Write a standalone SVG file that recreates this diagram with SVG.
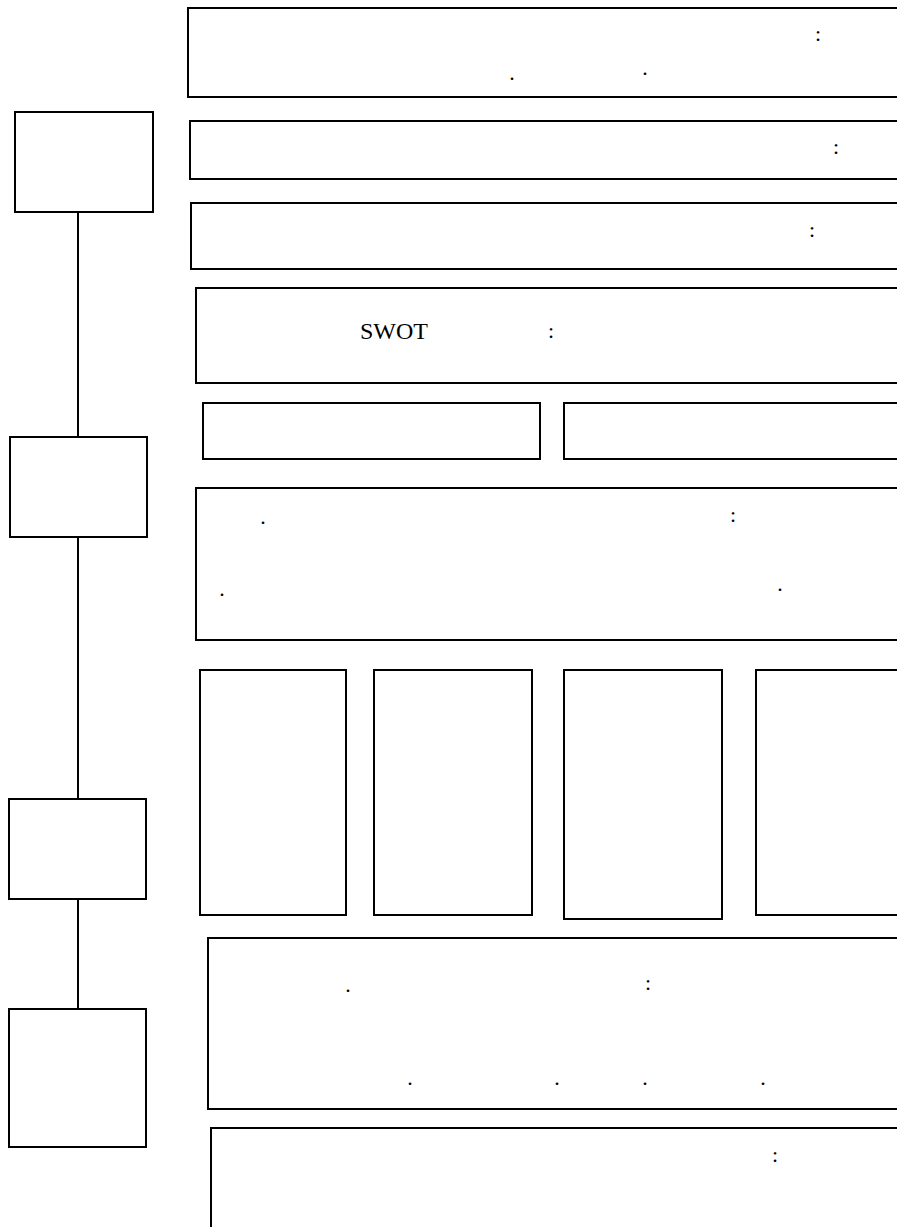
<svg xmlns="http://www.w3.org/2000/svg" width="897" height="1227" viewBox="0 0 897 1227">
<style>
.b{fill:#fff;stroke:#000;stroke-width:2}
.c{stroke:#000;stroke-width:2;fill:none}
text{font-family:"Liberation Serif","Times New Roman",serif;font-size:22px;fill:#000;text-anchor:middle}
.s{font-size:24px}
</style>
<rect x="0" y="0" width="897" height="1227" fill="#fff"/>
<g id="connectors">
<line class="c" x1="78" y1="212" x2="78" y2="437"/>
<line class="c" x1="78" y1="537" x2="78" y2="799"/>
<line class="c" x1="78" y1="899" x2="78" y2="1009"/>
</g>
<g id="stage1"><rect class="b" x="15" y="112" width="138" height="100"/></g>
<g id="stage2"><rect class="b" x="10" y="437" width="137" height="100"/></g>
<g id="stage3"><rect class="b" x="9" y="799" width="137" height="100"/></g>
<g id="stage4"><rect class="b" x="9" y="1009" width="137" height="138"/></g>
<g id="r1"><rect class="b" x="188" y="8" width="720" height="89"/>
<text x="818" y="41">:</text><text x="512" y="80">.</text><text x="645" y="75">.</text></g>
<g id="r2"><rect class="b" x="190" y="121" width="720" height="58"/>
<text x="836" y="154">:</text></g>
<g id="r3"><rect class="b" x="191" y="203" width="720" height="66"/>
<text x="812" y="237">:</text></g>
<g id="r4"><rect class="b" x="196" y="288" width="715" height="95"/>
<text class="s" x="394" y="339">SWOT</text><text x="551" y="338">:</text></g>
<g id="r5a"><rect class="b" x="203" y="403" width="337" height="56"/></g>
<g id="r5b"><rect class="b" x="564" y="403" width="346" height="56"/></g>
<g id="r6"><rect class="b" x="196" y="488" width="715" height="152"/>
<text x="263" y="524">.</text><text x="733" y="522">:</text><text x="222" y="596">.</text><text x="780" y="591">.</text></g>
<g id="col1"><rect class="b" x="200" y="670" width="146" height="245"/></g>
<g id="col2"><rect class="b" x="374" y="670" width="158" height="245"/></g>
<g id="col3"><rect class="b" x="564" y="670" width="158" height="249"/></g>
<g id="col4"><rect class="b" x="756" y="670" width="154" height="245"/></g>
<g id="r7"><rect class="b" x="208" y="938" width="702" height="171"/>
<text x="348" y="992">.</text><text x="648" y="990">:</text>
<text x="410" y="1085">.</text><text x="557" y="1085">.</text><text x="645" y="1085">.</text><text x="763" y="1085">.</text></g>
<g id="r8"><rect class="b" x="211" y="1128" width="700" height="120"/>
<text x="775" y="1162">:</text></g>
</svg>
